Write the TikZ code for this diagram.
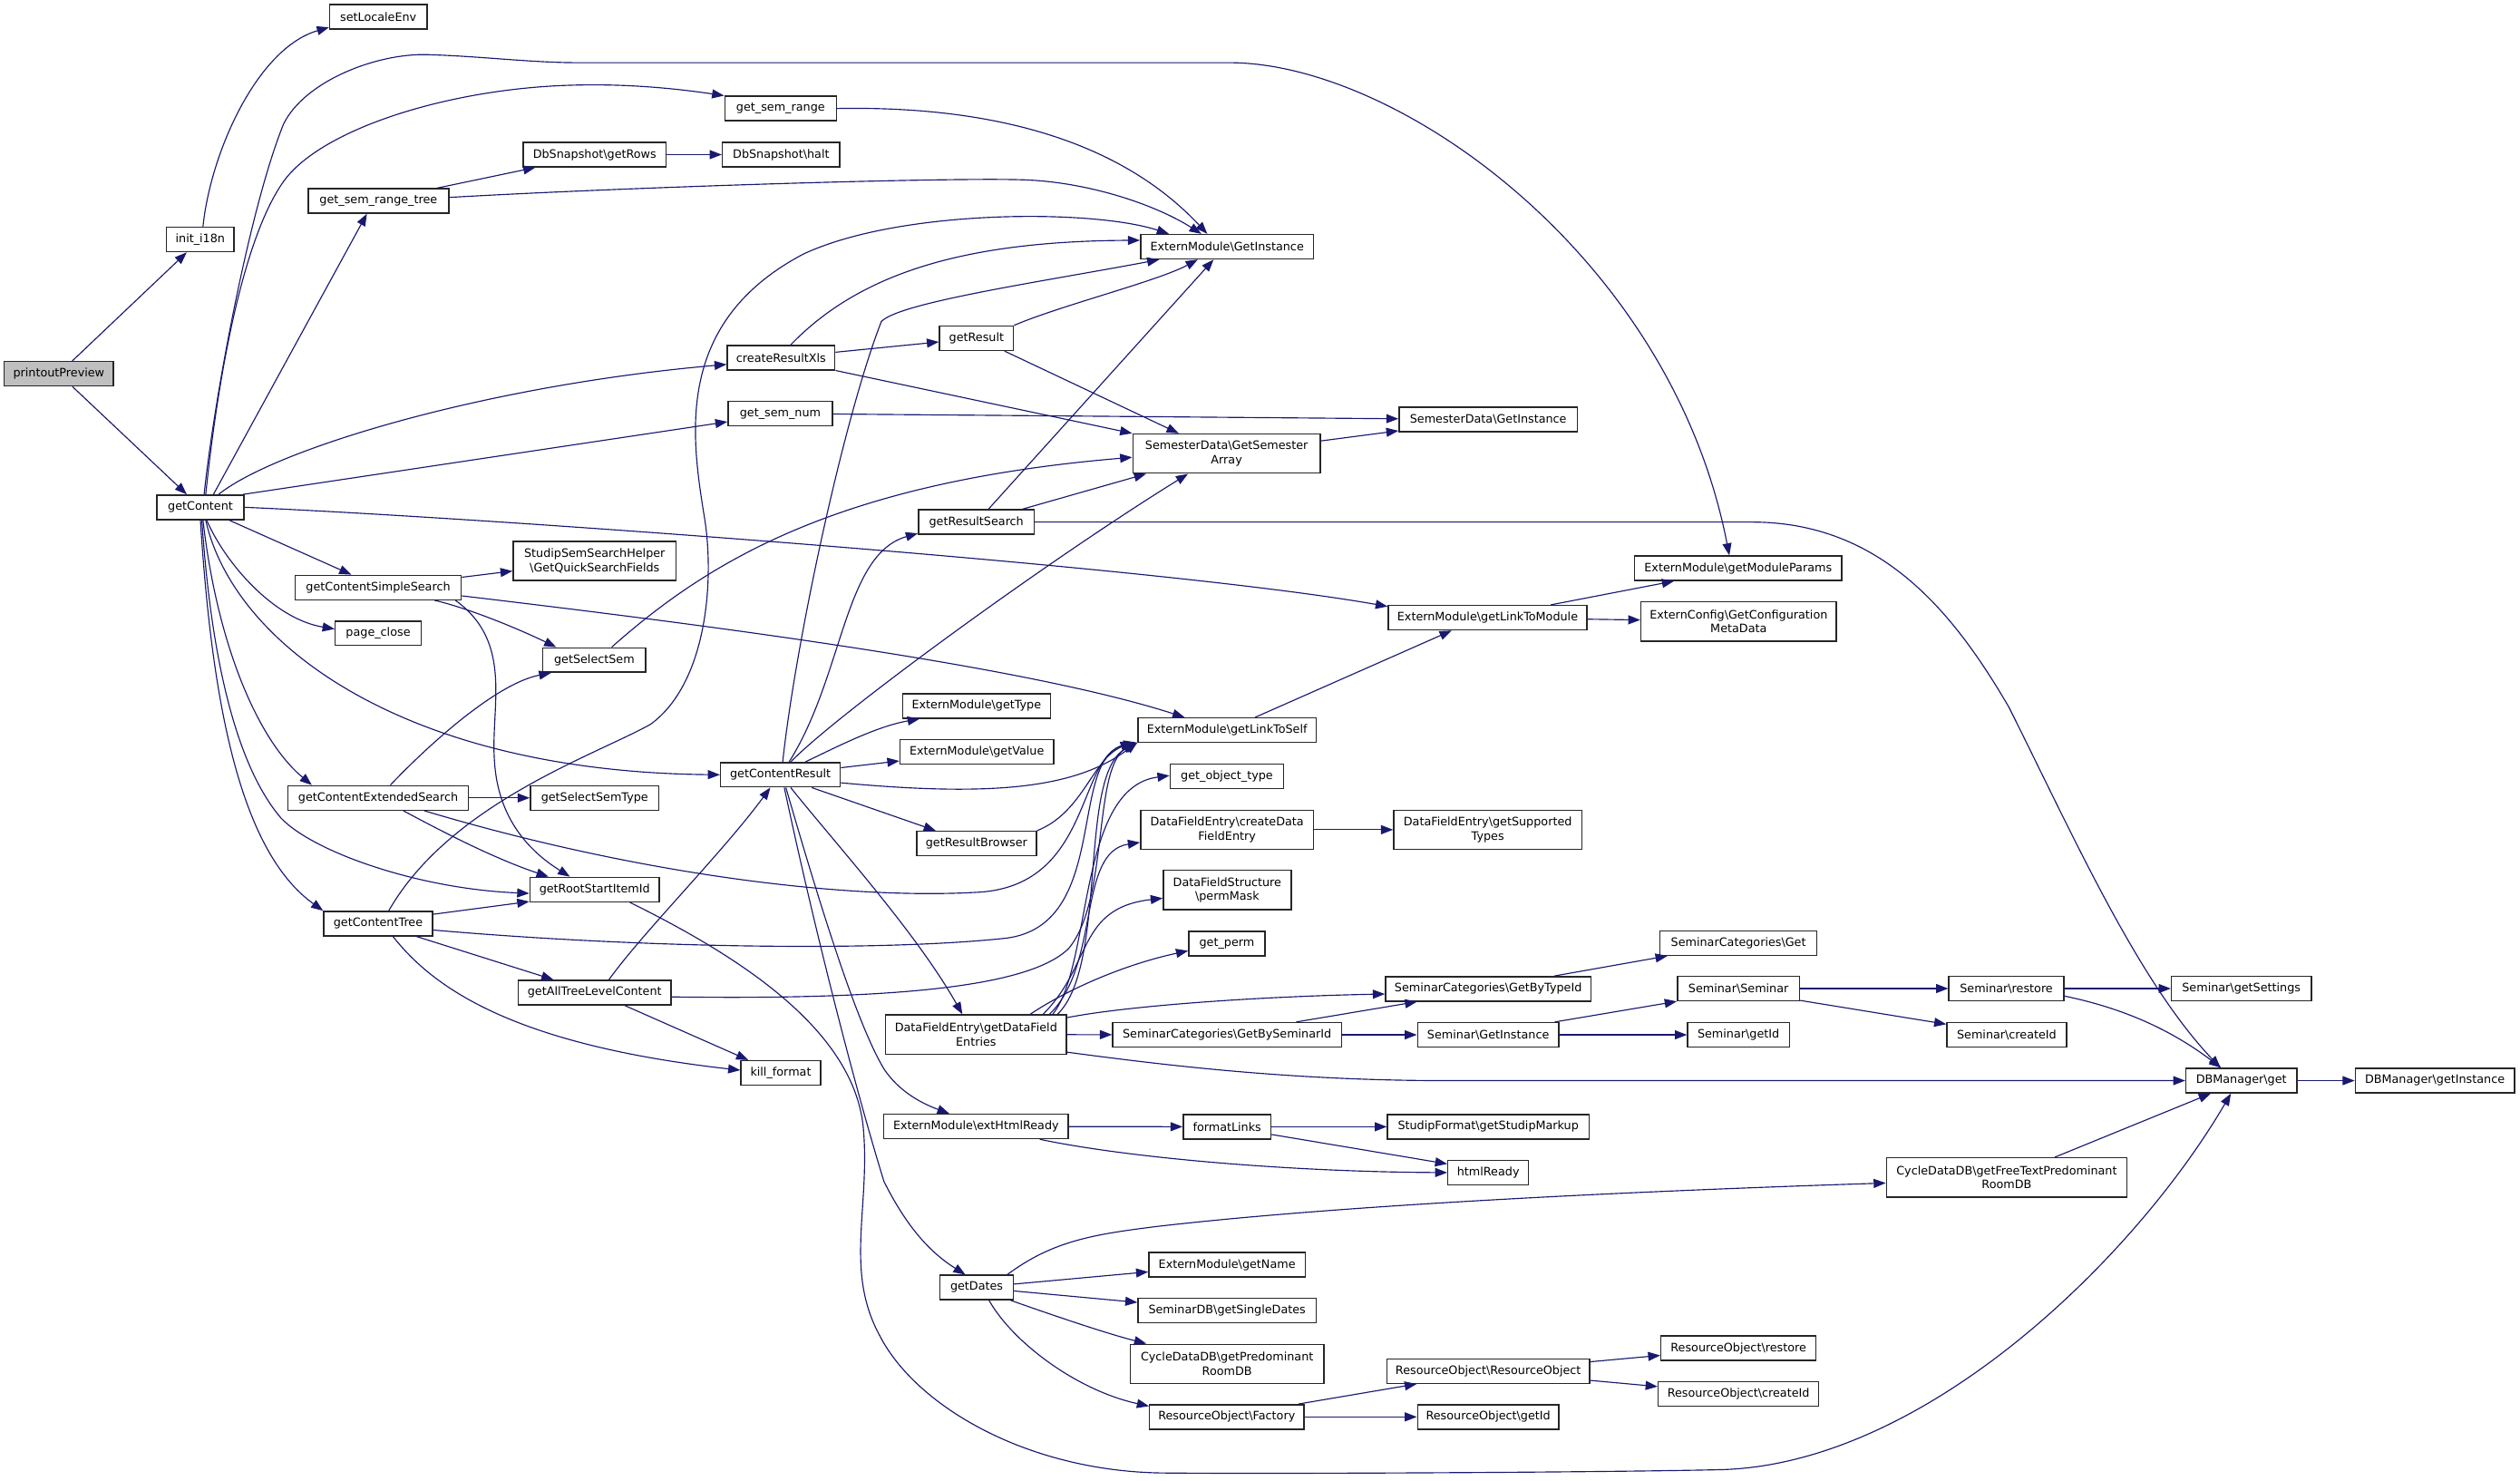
\documentclass[tikz,border=0pt]{standalone}
\usepackage{fontspec}
\setmainfont{DejaVu Sans}
\usetikzlibrary{arrows.meta,calc}
\definecolor{edgec}{HTML}{191970}
\definecolor{rootfill}{HTML}{BFBFBF}
\newcommand{\bsl}{\textbackslash}
\tikzset{
  fn/.style={draw=black!85, line width=0.8pt, inner sep=0pt, minimum height=15.2pt,
    font=\fontsize{7.2}{8.8}\selectfont, align=center, fill=white},
  two/.style={minimum height=24.4pt},
  e/.style={draw=edgec, line width=0.65pt, -{Triangle[length=7.5pt,width=5.6pt]}},
}
\begin{document}
\begin{tikzpicture}[x=1pt,y=-1pt]
\useasboundingbox (0,0) rectangle (1568,921);
% nodes
\node[fn, fill=rootfill, minimum width=68pt] (pp) at (36.6,232.5) {printoutPreview};
\node[fn, minimum width=42pt] (init) at (124.6,149) {init\_i18n};
\node[fn, minimum width=60.6pt] (setloc) at (235.4,10.4) {setLocaleEnv};
\node[fn, minimum width=54pt] (gc) at (124.7,315.6) {getContent};
\node[fn, minimum width=69.5pt] (gsr) at (485.7,67.5) {get\_sem\_range};
\node[fn, minimum width=89pt] (dsgr) at (370,96.2) {DbSnapshot\bsl getRows};
\node[fn, minimum width=73pt] (dsh) at (486,96.2) {DbSnapshot\bsl halt};
\node[fn, minimum width=87.5pt] (gsrt) at (235.5,125) {get\_sem\_range\_tree};
\node[fn, minimum width=107.6pt] (emgi) at (763.5,153.5) {ExternModule\bsl GetInstance};
\node[fn, minimum width=67pt] (crx) at (486,222.5) {createResultXls};
\node[fn, minimum width=46pt] (gres) at (607.6,210.4) {getResult};
\node[fn, minimum width=65pt] (gsn) at (485.5,257.3) {get\_sem\_num};
\node[fn, minimum width=111pt] (sdgi) at (926,261) {SemesterData\bsl GetInstance};
\node[fn, two, minimum width=116.7pt] (sdgsa) at (763.2,282.2) {SemesterData\bsl GetSemester\\Array};
\node[fn, minimum width=72pt] (grs) at (607.5,324.8) {getResultSearch};
\node[fn, minimum width=129pt] (emgmp) at (1081.5,353.5) {ExternModule\bsl getModuleParams};
\node[fn, minimum width=123.6pt] (gltm) at (925.6,384.3) {ExternModule\bsl getLinkToModule};
\node[fn, two, minimum width=121.6pt] (ecfg) at (1081.8,386.6) {ExternConfig\bsl GetConfiguration\\MetaData};
\node[fn, two, minimum width=101.4pt] (sssh) at (370,349) {StudipSemSearchHelper\\\bsl GetQuickSearchFields};
\node[fn, minimum width=103.4pt] (gcss) at (235.3,365.5) {getContentSimpleSearch};
\node[fn, minimum width=53.4pt] (pc) at (235.3,394) {page\_close};
\node[fn, minimum width=64pt] (gss) at (369.8,410.6) {getSelectSem};
\node[fn, minimum width=92pt] (emgt) at (607.6,439.2) {ExternModule\bsl getType};
\node[fn, minimum width=95.6pt] (emgv) at (607.8,467.8) {ExternModule\bsl getValue};
\node[fn, minimum width=110.8pt] (emgls) at (763.5,454.3) {ExternModule\bsl getLinkToSelf};
\node[fn, minimum width=74.5pt] (gcr) at (485.6,482) {getContentResult};
\node[fn, minimum width=112.4pt] (gces) at (235.3,496.4) {getContentExtendedSearch};
\node[fn, minimum width=80pt] (gsst) at (370,496.4) {getSelectSemType};
\node[fn, minimum width=70.6pt] (got) at (763.4,483) {get\_object\_type};
\node[fn, minimum width=74.5pt] (grb) at (607.6,524.8) {getResultBrowser};
\node[fn, two, minimum width=107.6pt] (dfecd) at (763.5,516.2) {DataFieldEntry\bsl createData\\FieldEntry};
\node[fn, two, minimum width=117pt] (dfgst) at (925.7,516.2) {DataFieldEntry\bsl getSupported\\Types};
\node[fn, minimum width=80.6pt] (grsi) at (370,553.4) {getRootStartItemId};
\node[fn, two, minimum width=79.5pt] (dfspm) at (763.6,553.7) {DataFieldStructure\\\bsl permMask};
\node[fn, minimum width=67.7pt] (gct) at (235.3,574.6) {getContentTree};
\node[fn, minimum width=47.5pt] (gp) at (763.4,587) {get\_perm};
\node[fn, minimum width=97.5pt] (scg) at (1081.7,586.7) {SeminarCategories\bsl Get};
\node[fn, minimum width=127.8pt] (scgbt) at (926,615.2) {SeminarCategories\bsl GetByTypeId};
\node[fn, minimum width=95pt] (gatlc) at (370,617.5) {getAllTreeLevelContent};
\node[fn, minimum width=76pt] (ss) at (1081.7,615) {Seminar\bsl Seminar};
\node[fn, minimum width=71.6pt] (sr) at (1248.4,615) {Seminar\bsl restore};
\node[fn, minimum width=87pt] (sgs) at (1394.6,615) {Seminar\bsl getSettings};
\node[fn, two, minimum width=112.4pt] (dfegd) at (607.3,643.6) {DataFieldEntry\bsl getDataField\\Entries};
\node[fn, minimum width=142.4pt] (scgbs) at (763.5,643.8) {SeminarCategories\bsl GetBySeminarId};
\node[fn, minimum width=88pt] (sgi) at (926,643.8) {Seminar\bsl GetInstance};
\node[fn, minimum width=63.3pt] (sgid) at (1081.7,643.8) {Seminar\bsl getId};
\node[fn, minimum width=74.4pt] (sci) at (1248.6,643.7) {Seminar\bsl createId};
\node[fn, minimum width=49.6pt] (kf) at (485.8,667.5) {kill\_format};
\node[fn, minimum width=69pt] (dbg) at (1394.6,672.3) {DBManager\bsl get};
\node[fn, minimum width=99pt] (dbgi) at (1515,672.3) {DBManager\bsl getInstance};
\node[fn, minimum width=114.6pt] (emehr) at (607.3,700.8) {ExternModule\bsl extHtmlReady};
\node[fn, minimum width=54.6pt] (fl) at (763.5,701) {formatLinks};
\node[fn, minimum width=125.4pt] (sfgsm) at (926,701) {StudipFormat\bsl getStudipMarkup};
\node[fn, minimum width=50.2pt] (hr) at (926,729.5) {htmlReady};
\node[fn, two, minimum width=149.7pt] (cdfree) at (1248.6,732.5) {CycleDataDB\bsl getFreeTextPredominant\\RoomDB};
\node[fn, minimum width=45.5pt] (gd) at (607.7,801) {getDates};
\node[fn, minimum width=97.4pt] (emgn) at (763.5,786.8) {ExternModule\bsl getName};
\node[fn, minimum width=110.8pt] (sdbgsd) at (763.5,815.4) {SeminarDB\bsl getSingleDates};
\node[fn, two, minimum width=120.3pt] (cdpr) at (763.5,848.5) {CycleDataDB\bsl getPredominant\\RoomDB};
\node[fn, minimum width=126.2pt] (roro) at (926,853) {ResourceObject\bsl ResourceObject};
\node[fn, minimum width=96.6pt] (rores) at (1081.7,838.8) {ResourceObject\bsl restore};
\node[fn, minimum width=99.8pt] (rocid) at (1081.7,867.2) {ResourceObject\bsl createId};
\node[fn, minimum width=96pt] (rof) at (763.3,881.5) {ResourceObject\bsl Factory};
\node[fn, minimum width=88pt] (rogid) at (926,881.5) {ResourceObject\bsl getId};
% edges
\draw[e] (pp) -- (init);
\draw[e] (pp) -- (gc);
\draw[e] ($(init.north)+(1.7,0)$) .. controls (131,95) and (160,30) .. ($(setloc.south west)+(0,-1.4)$);
\draw[e] ($(gc.north)+(2.3,0)$) .. controls (133,250) and (155,130) .. (176.5,77) .. controls (190,50) and (235,33) .. (266,34) .. controls (300,35) and (330,39) .. (360,39) -- (765,39) .. controls (870,39) and (1040,160) .. ($(emgmp.north)+(-5.5,0)$);
\draw[e] ($(gc.north)+(3.3,0)$) .. controls (135,240) and (150,150) .. (176.5,112.8) .. controls (200,80) and (280,55) .. (356,53) .. controls (390,52) and (420,55) .. (gsr.north west);
\draw[e] ($(gc.north)+(8.1,0)$) -- ($(gsrt.south)+(-7.2,0)$);
\draw[e] ($(gc.north)+(11.3,0)$) .. controls (170,280) and (300,240) .. ($(crx.west)+(0,4.2)$);
\draw[e] ($(gc.north east)+(-1,0)$) -- ($(gsn.west)+(0,5.1)$);
\draw[e] (gc.east) .. controls (300,322) and (720,352) .. ($(gltm.north west)+(0,1)$);
\draw[e] ($(gc.south)+(17.8,0)$) -- ($(gcss.north)+(-16.7,0)$);
\draw[e] ($(gc.south)+(3.9,0)$) .. controls (140,350) and (170,385) .. ($(pc.west)+(0,-2.7)$);
\draw[e] ($(gc.south)+(3.3,0)$) .. controls (145,400) and (250,480) .. (gcr.west);
\draw[e] ($(gc.south)+(1.6,0)$) .. controls (135,400) and (160,460) .. ($(gces.north west)+(15.3,0)$);
\draw[e] ($(gc.south)+(0.9,0)$) .. controls (132,420) and (150,480) .. (174.9,509) .. controls (195,530) and (260,553) .. ($(grsi.west)+(0,2.4)$);
\draw[e] (gc.south) .. controls (132,440) and (150,530) .. (gct.north west);
\draw[e] (gsr.east) .. controls (600,66) and (690,80) .. ($(emgi.north)+(-12.3,0)$);
\draw[e] ($(gsrt.north)+(36.5,0)$) -- ($(dsgr.south west)+(8,0)$);
\draw[e] ($(gsrt.east)+(0,-2.2)$) .. controls (400,116) and (600,110) .. (640,112) .. controls (680,114) and (720,128) .. ($(emgi.north)+(-16,0)$);
\draw[e] (dsgr) -- (dsh);
\draw[e] ($(crx.north)+(6,0)$) .. controls (535,170) and (600,150) .. ($(emgi.west)+(0,-4)$);
\draw[e] (crx) -- (gres);
\draw[e] (crx.south east) -- (sdgsa.north west);
\draw[e] (gres.north east) .. controls (660,190) and (720,175) .. ($(emgi.south)+(-18.2,0)$);
\draw[e] ($(gres.south)+(17.4,0)$) -- ($(sdgsa.north)+(-29.8,0)$);
\draw[e] (gsn) -- (sdgi);
\draw[e] ($(sdgsa.east)+(0,-7.9)$) -- ($(sdgi.south west)+(0,-1)$);
\draw[e] ($(grs.north)+(7.5,0)$) -- ($(emgi.south)+(-8.4,0)$);
\draw[e] ($(grs.north)+(28.5,0)$) -- ($(sdgsa.south west)+(8.7,0)$);
\draw[e] (grs.east) -- (1090,324.8) .. controls (1170,324.8) and (1215,380) .. (1250,440) .. controls (1290,520) and (1330,610) .. ($(dbg.north)+(-13,0)$);
\draw[e] ($(gltm.north)+(39.3,0)$) -- ($(emgmp.south west)+(25,0)$);
\draw[e] (gltm) -- (ecfg);
\draw[e] (gcss) -- (sssh);
\draw[e] ($(gcss.south)+(35.1,0)$) .. controls (290,378) and (320,390) .. ($(gss.north west)+(8.7,0)$);
\draw[e] ($(gcss.south)+(48.1,0)$) .. controls (320,400) and (305,440) .. (307.7,474) .. controls (310,510) and (330,530) .. ($(grsi.north)+(-15.4,0)$);
\draw[e] ($(gcss.east)+(0,5.2)$) .. controls (450,390) and (640,415) .. ($(emgls.north west)+(29.4,0)$);
\draw[e] ($(gss.north)+(10.8,0)$) .. controls (440,350) and (520,300) .. ($(sdgsa.west)+(0,2.3)$);
\draw[e] ($(gces.north)+(7.6,0)$) .. controls (270,460) and (310,425) .. ($(gss.south west)+(5.5,0)$);
\draw[e] (gces) -- (gsst);
\draw[e] ($(gces.south)+(15.7,0)$) .. controls (280,520) and (310,535) .. ($(grsi.north west)+(12,0)$);
\draw[e] ($(gces.south)+(28.7,0)$) .. controls (400,545) and (530,560) .. (610,555) .. controls (680,550) and (670,470) .. ($(emgls.south west)+(-1,-0.5)$);
\draw[e] ($(gct.north east)+(0,2.2)$) -- ($(grsi.south west)+(0,-0.5)$);
\draw[e] ($(gct.north)+(6.6,0)$) .. controls (280,500) and (370,470) .. (404.8,450.6) .. controls (440,425) and (445,360) .. (438,320) .. controls (430,270) and (420,200) .. (500,158) .. controls (560,130) and (680,130) .. ($(emgi.north west)+(18,0)$);
\draw[e] ($(gct.east)+(0,4)$) .. controls (400,590) and (550,592) .. (626.6,583.6) .. controls (690,575) and (665,475) .. ($(emgls.south west)+(-3,-0.5)$);
\draw[e] ($(gct.south)+(23.8,0)$) -- ($(gatlc.north west)+(22.3,0)$);
\draw[e] ($(gct.south)+(9.2,0)$) .. controls (270,615) and (320,650) .. ($(kf.west)+(0,-1.7)$);
\draw[e] ($(gatlc.north)+(8.9,0)$) .. controls (400,580) and (450,530) .. ($(gcr.south)+(-6.3,0)$);
\draw[e] ($(gatlc.south)+(18.6,0)$) -- ($(kf.north west)+(5,0)$);
\draw[e] ($(gatlc.east)+(0,2.7)$) .. controls (550,622) and (640,615) .. (665,590) .. controls (690,560) and (680,480) .. ($(emgls.south west)+(-2,-0.5)$);
\draw[e] ($(grsi.south)+(21.9,0)$) .. controls (460,595) and (530,640) .. (537,700) .. controls (542,750) and (525,790) .. (547.4,831) .. controls (570,875) and (640,916) .. (725.5,916.4) .. controls (800,917) and (1000,916) .. (1072,914.3) .. controls (1200,910) and (1330,780) .. ($(dbg.south)+(-6.5,0)$);
\draw[e] ($(gcr.north)+(1.4,0)$) .. controls (495,400) and (525,260) .. (548.4,200) .. controls (560,188) and (650,175) .. ($(emgi.south west)+(12,0)$);
\draw[e] ($(gcr.north)+(5.4,0)$) .. controls (525,420) and (525,345) .. ($(grs.south west)+(0,-1)$);
\draw[e] ($(gcr.north)+(6.4,0)$) .. controls (520,445) and (650,350) .. ($(sdgsa.south)+(-24,0)$);
\draw[e] ($(gcr.north)+(15.5,0)$) .. controls (520,465) and (545,452) .. ($(emgt.south west)+(11,0)$);
\draw[e] (gcr) -- (emgv);
\draw[e] ($(gcr.east)+(0,5)$) .. controls (620,496) and (670,490) .. ($(emgls.south west)+(0,-0.5)$);
\draw[e] ($(gcr.south)+(19.5,0)$) -- ($(grb.north west)+(12.3,0)$);
\draw[e] ($(gcr.south)+(6.4,0)$) .. controls (520,525) and (570,580) .. ($(dfegd.north)+(-8.5,0)$);
\draw[e] ($(gcr.south)+(3.4,0)$) .. controls (515,580) and (535,640) .. (550,665) .. controls (560,680) and (575,687) .. ($(emehr.north)+(-16.6,0)$);
\draw[e] ($(gcr.south)+(2.4,0)$) .. controls (505,570) and (530,670) .. (550,735) .. controls (565,765) and (580,780) .. ($(gd.north)+(-7,0)$);
\draw[e] (grb.north east) .. controls (675,505) and (680,470) .. ($(emgls.south west)+(-1,-0.5)$);
\draw[e] ($(emgls.north)+(17.4,0)$) -- ($(gltm.south west)+(39.8,0)$);
\draw[e] (dfecd) -- (dfgst);
\draw[e] ($(dfegd.north)+(33.7,0)$) .. controls (665,615) and (700,600) .. ($(gp.west)+(0,4.5)$);
\draw[e] ($(dfegd.north)+(41.7,0)$) .. controls (680,600) and (670,565) .. ($(dfspm.west)+(0,5.1)$);
\draw[e] ($(dfegd.north)+(45.7,0)$) .. controls (685,600) and (670,530) .. ($(dfecd.west)+(0,7.9)$);
\draw[e] ($(dfegd.north)+(47.7,0)$) .. controls (680,600) and (670,490) .. ($(got.west)+(0,-0.5)$);
\draw[e] ($(dfegd.north)+(50.7,0)$) .. controls (690,600) and (670,480) .. (emgls.south west);
\draw[e] ($(dfegd.east)+(0,-10.5)$) .. controls (700,626) and (780,620) .. ($(scgbt.west)+(0,3.2)$);
\draw[e] (dfegd) -- (scgbs);
\draw[e] ($(dfegd.east)+(0,11)$) .. controls (720,662) and (800,672.3) .. (900,672.3) -- (dbg.west);
\draw[e] ($(scgbt.north)+(41,0)$) -- ($(scg.south west)+(5,0)$);
\draw[e] ($(scgbs.north)+(43,0)$) -- ($(scgbt.south west)+(20,0)$);
\draw[e] (scgbs) -- (sgi);
\draw[e] ($(sgi.north east)+(-3,0)$) -- (ss.south west);
\draw[e] (sgi) -- (sgid);
\draw[e] (ss) -- (sr);
\draw[e] ($(ss.south east)+(0,-0.6)$) -- ($(sci.north west)+(0,1.5)$);
\draw[e] (sr) -- (sgs);
\draw[e] ($(sr.east)+(0,4.7)$) .. controls (1320,627) and (1350,640) .. ($(dbg.north)+(-12.6,0)$);
\draw[e] (dbg) -- (dbgi);
\draw[e] (emehr) -- (fl);
\draw[e] ($(emehr.south east)+(-18,0)$) .. controls (700,720) and (800,729) .. (hr.west);
\draw[e] (fl) -- (sfgsm);
\draw[e] ($(fl.east)+(0,4.8)$) -- ($(hr.north west)+(0,2.6)$);
\draw[e] ($(cdfree.north)+(30,0)$) -- ($(dbg.south)+(-19,0)$);
\draw[e] ($(gd.north)+(19,0)$) .. controls (655,772) and (680,768) .. (720,763) .. controls (850,748) and (1050,740) .. ($(cdfree.west)+(0,3.5)$);
\draw[e] (gd) -- (emgn);
\draw[e] (gd) -- (sdbgsd);
\draw[e] ($(gd.south east)+(-2,0)$) .. controls (660,820) and (690,830) .. ($(cdpr.north west)+(10.3,0)$);
\draw[e] ($(gd.south)+(7.7,0)$) .. controls (630,835) and (670,865) .. ($(rof.north west)+(0,1.3)$);
\draw[e] ($(rof.north east)+(-3.9,0)$) -- ($(roro.south west)+(19,0)$);
\draw[e] (rof) -- (rogid);
\draw[e] (roro) -- (rores);
\draw[e] (roro) -- (rocid);
\end{tikzpicture}
\end{document}
